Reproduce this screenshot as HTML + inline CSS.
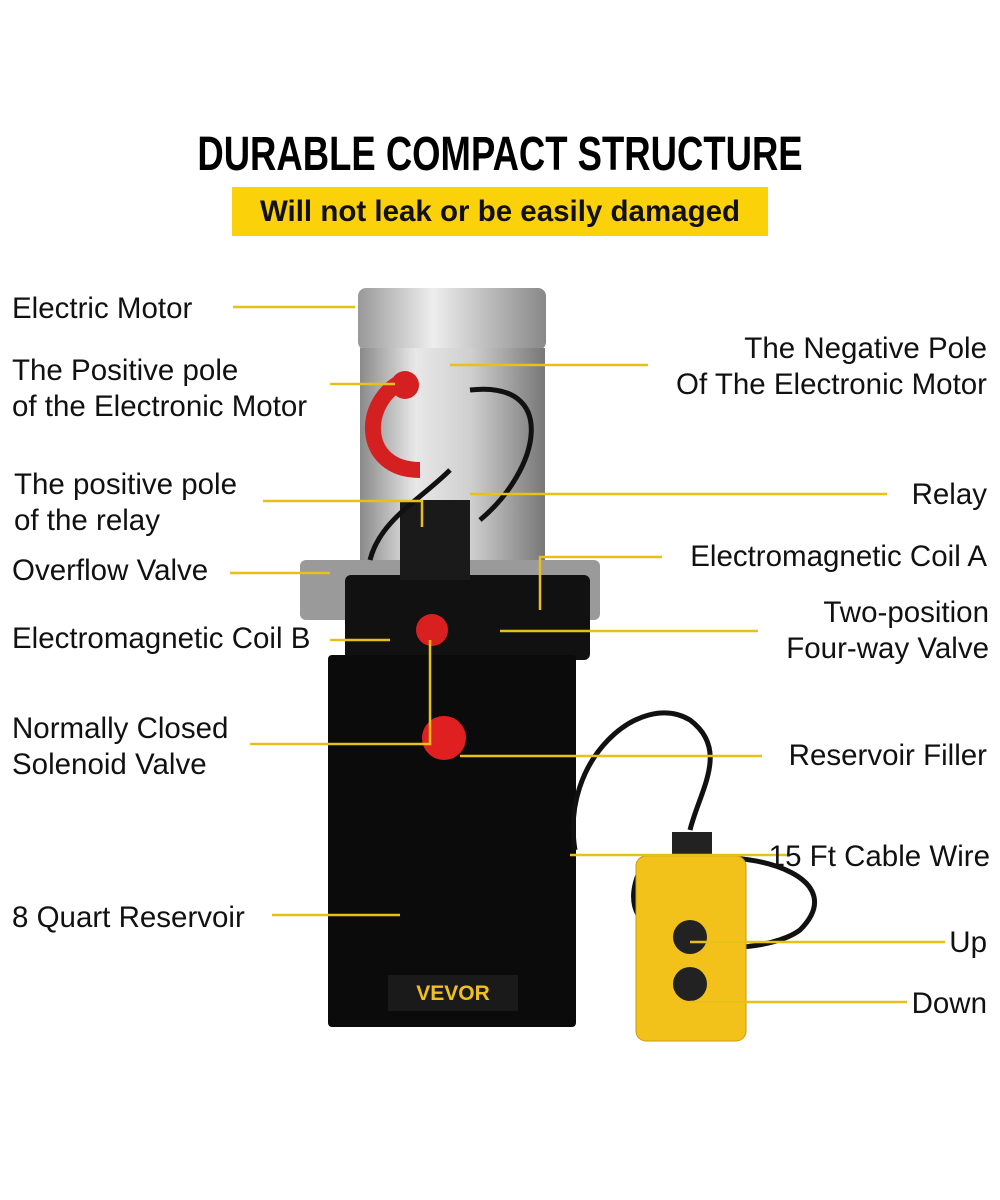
<!DOCTYPE html>
<html><head><meta charset="utf-8"><style>
body{margin:0;background:#fff;width:1000px;height:1200px;position:relative;overflow:hidden;font-family:"Liberation Sans",sans-serif;}
.t{position:absolute;font-size:29.5px;color:#111;line-height:36px;white-space:nowrap;margin-top:2px}
.r{text-align:right}
h1{position:absolute;left:0;width:1000px;top:127px;margin:0;text-align:center;font-family:"Liberation Sans",sans-serif;font-weight:bold;font-size:48px;transform:scaleX(0.76);transform-origin:center;color:#000}
.bar{position:absolute;left:232px;top:187px;width:536px;height:49px;background:#fbd20a;text-align:center;font-weight:bold;font-size:29.5px;line-height:49px;color:#111}
svg{position:absolute;left:0;top:0}
</style></head><body>
<svg width="1000" height="1200">
<defs>
<linearGradient id="cyl" x1="0" x2="1"><stop offset="0" stop-color="#8a8a8a"/><stop offset=".3" stop-color="#e8e8e8"/><stop offset=".6" stop-color="#cfcfcf"/><stop offset="1" stop-color="#777"/></linearGradient>
<linearGradient id="cap" x1="0" x2="1"><stop offset="0" stop-color="#999"/><stop offset=".4" stop-color="#eee"/><stop offset="1" stop-color="#888"/></linearGradient>
</defs>
<rect x="358" y="288" width="188" height="62" rx="8" fill="url(#cap)"/>
<rect x="360" y="348" width="185" height="215" fill="url(#cyl)"/>
<rect x="300" y="560" width="300" height="60" rx="6" fill="#9a9a9a"/>
<rect x="345" y="575" width="245" height="85" rx="6" fill="#111"/>
<rect x="400" y="500" width="70" height="80" fill="#1a1a1a"/>
<rect x="328" y="655" width="248" height="372" rx="4" fill="#0b0b0b"/>
<rect x="388" y="975" width="130" height="36" fill="#1a1a1a"/>
<text x="453" y="1000" text-anchor="middle" font-family="Liberation Sans" font-weight="bold" font-size="21" fill="#f0c020">VEVOR</text>
<path d="M405 380 C360 400 360 470 420 470" stroke="#d42020" stroke-width="16" fill="none"/>
<circle cx="405" cy="385" r="14" fill="#d42020"/>
<circle cx="432" cy="630" r="16" fill="#d82020"/>
<circle cx="444" cy="738" r="22" fill="#e02020"/>
<path d="M470 390 C560 380 540 470 480 520 M450 470 C420 500 380 520 370 560" stroke="#111" stroke-width="5" fill="none"/>
<path d="M575 850 C560 760 640 690 690 720 C730 750 700 790 690 830" stroke="#111" stroke-width="5" fill="none"/>
<path d="M640 870 C600 960 760 960 800 930 C850 880 760 850 700 860" stroke="#111" stroke-width="5" fill="none"/>
<rect x="672" y="832" width="40" height="28" fill="#222"/>
<rect x="636" y="856" width="110" height="185" rx="10" fill="#f2c21a" stroke="#c99a10"/>
<circle cx="690" cy="937" r="17" fill="#222"/>
<circle cx="690" cy="984" r="17" fill="#222"/>
<g stroke="#e8c01a" stroke-width="2.5" fill="none">
<path d="M233 307H355"/>
<path d="M330 384H395"/>
<path d="M450 365H648"/>
<path d="M263 501H422V527"/>
<path d="M470 494H887"/>
<path d="M230 573H330"/>
<path d="M540 610V557H662"/>
<path d="M330 640H390"/>
<path d="M500 631H758"/>
<path d="M250 744H430V640"/>
<path d="M460 756H762"/>
<path d="M570 855H790"/>
<path d="M272 915H400"/>
<path d="M690 942H945"/>
<path d="M690 1002H907"/>
</g>
</svg>
<h1>DURABLE COMPACT STRUCTURE</h1>
<div class="bar">Will not leak or be easily damaged</div>
<div class="t" style="left:12px;top:289px">Electric Motor</div>
<div class="t" style="left:12px;top:351px">The Positive pole<br>of the Electronic Motor</div>
<div class="t r" style="right:13px;top:329px">The Negative Pole<br>Of The Electronic Motor</div>
<div class="t" style="left:14px;top:465px">The positive pole<br>of the relay</div>
<div class="t r" style="right:13px;top:475px">Relay</div>
<div class="t" style="left:12px;top:551px">Overflow Valve</div>
<div class="t r" style="right:13px;top:537px">Electromagnetic Coil A</div>
<div class="t" style="left:12px;top:619px">Electromagnetic Coil B</div>
<div class="t r" style="right:11px;top:593px">Two-position<br>Four-way Valve</div>
<div class="t" style="left:12px;top:709px">Normally Closed<br>Solenoid Valve</div>
<div class="t r" style="right:13px;top:736px">Reservoir Filler</div>
<div class="t r" style="right:10px;top:837px">15 Ft Cable Wire</div>
<div class="t" style="left:12px;top:898px">8 Quart Reservoir</div>
<div class="t r" style="right:13px;top:923px">Up</div>
<div class="t r" style="right:13px;top:984px">Down</div>
</body></html>
